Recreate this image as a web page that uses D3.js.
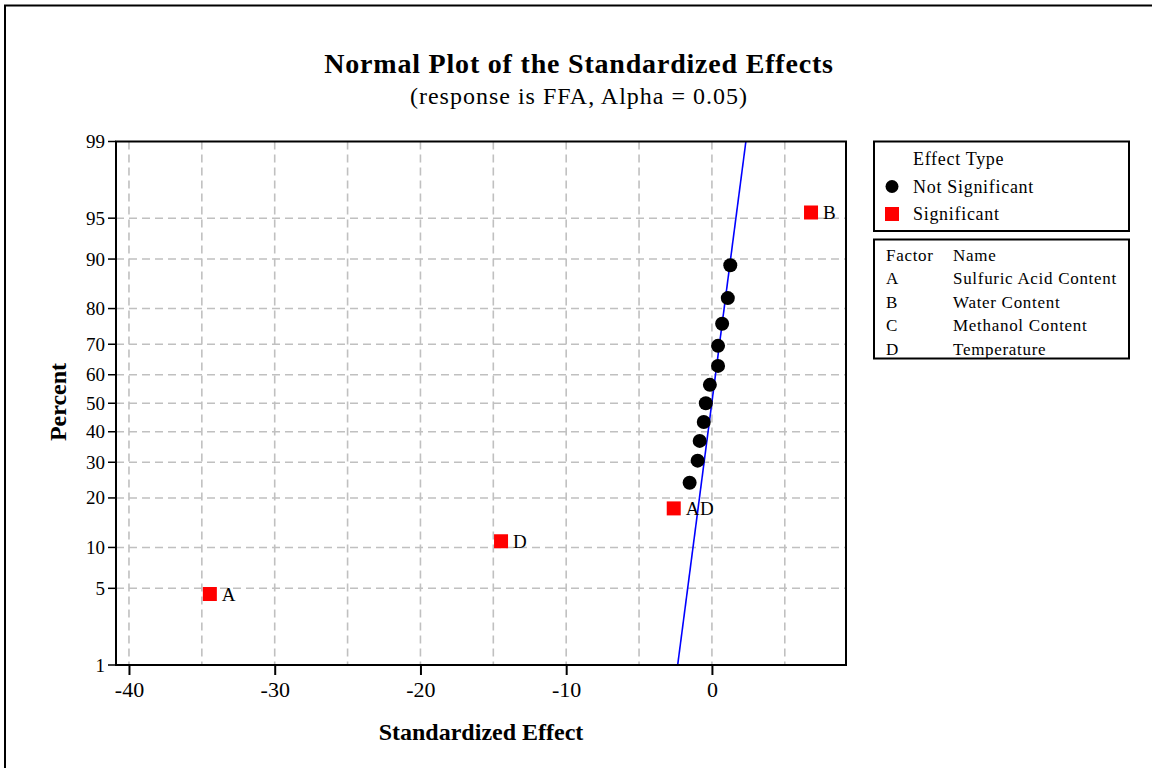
<!DOCTYPE html>
<html>
<head>
<meta charset="utf-8">
<script src="https://cdn.jsdelivr.net/npm/d3@7"></script>
<style>
  body { margin: 0; background: #fff; }
  text { font-family: "Liberation Serif", "Times New Roman", serif; fill: #000; }
</style>
</head>
<body>
<div id="chart"></div>
<script>
// effects sorted by size, with their normal-plot percent
var effectNames = ["A", "D", "AD", "", "", "", "", "", "", "", "", "", "", "", "B"];
var effectValues = [-34.45, -14.47, -2.62, -1.53, -0.98, -0.84, -0.56, -0.42, -0.14, 0.42, 0.42, 0.70, 1.09, 1.26, 6.80];
var effectPercents = [4.5, 11.0, 17.5, 24.0, 30.5, 36.9, 43.4, 50.0, 56.5, 63.0, 69.5, 76.0, 82.5, 89.0, 95.5];
var effectSignificant = [true, true, true, false, false, false, false, false, false, false, false, false, false, false, true];

// fitted line end points
var lineValues = [-2.35, 2.33];
var linePercents = [1, 99];

var yTickValues = [1, 5, 10, 20, 30, 40, 50, 60, 70, 80, 90, 95, 99];
var yGridValues = [5, 10, 20, 30, 40, 50, 60, 70, 80, 90, 95];
var xTickValues = [-40, -30, -20, -10, 0];
var xGridValues = [-40, -35, -30, -25, -20, -15, -10, -5, 0, 5];

var factorLetters = ["A", "B", "C", "D"];
var factorNames = ["Sulfuric Acid Content", "Water Content", "Methanol Content", "Temperature"];

var width = 1152, height = 768;
var plot = {left: 116, top: 141.5, right: 846, bottom: 665};

// inverse normal cdf (Acklam)
function probit(p) {
	var a = [-39.69683028665376, 220.9460984245205, -275.9285104469687, 138.3577518672690, -30.66479806614716, 2.506628277459239],
		b = [-54.47609879822406, 161.5858368580409, -155.6989798598866, 66.80131188771972, -13.28068155288572],
		c = [-0.007784894002430293, -0.3223964580411365, -2.400758277161838, -2.549732539343734, 4.374664141464968, 2.938163982698783],
		d = [0.007784695709041462, 0.3224671290700398, 2.445134137142996, 3.754408661907416];
	var pl = 0.02425, q, r;
	if (p < pl) {
		q = Math.sqrt(-2 * Math.log(p));
		return (((((c[0]*q+c[1])*q+c[2])*q+c[3])*q+c[4])*q+c[5]) / ((((d[0]*q+d[1])*q+d[2])*q+d[3])*q+1);
	}
	if (p > 1 - pl) {
		q = Math.sqrt(-2 * Math.log(1 - p));
		return -(((((c[0]*q+c[1])*q+c[2])*q+c[3])*q+c[4])*q+c[5]) / ((((d[0]*q+d[1])*q+d[2])*q+d[3])*q+1);
	}
	q = p - 0.5; r = q * q;
	return (((((a[0]*r+a[1])*r+a[2])*r+a[3])*r+a[4])*r+a[5])*q / (((((b[0]*r+b[1])*r+b[2])*r+b[3])*r+b[4])*r+1);
}

var svg = d3.select("#chart").append("svg")
	.attr("width", width)
	.attr("height", height);

var xScale = d3.scaleLinear().domain([-40.89, 9.2]).range([plot.left, plot.right]);
var zScale = d3.scaleLinear().domain([probit(0.01), probit(0.99)]).range([plot.bottom, plot.top]);
var yScale = function(pct) { return zScale(probit(pct / 100)); };

// outer frame (only left and top show)
svg.append("path")
	.attr("d", "M5,768 L5,5.5 L1152,5.5")
	.attr("fill", "none")
	.attr("stroke", "#000")
	.attr("stroke-width", 2);

// grid
var grid = svg.append("g")
	.attr("stroke", "#c0c0c0")
	.attr("stroke-width", 1.6)
	.attr("stroke-dasharray", "8,5");

grid.selectAll(".vgrid")
	.data(xGridValues)
	.enter().append("line")
		.attr("x1", function(d) { return xScale(d); })
		.attr("x2", function(d) { return xScale(d); })
		.attr("y1", plot.top)
		.attr("y2", plot.bottom);

grid.selectAll(".hgrid")
	.data(yGridValues)
	.enter().append("line")
		.attr("x1", plot.left)
		.attr("x2", plot.right)
		.attr("y1", function(d) { return yScale(d); })
		.attr("y2", function(d) { return yScale(d); });

// fitted line
svg.append("line")
	.attr("x1", xScale(lineValues[0]))
	.attr("y1", yScale(linePercents[0]))
	.attr("x2", xScale(lineValues[1]))
	.attr("y2", yScale(linePercents[1]))
	.attr("stroke", "#0000ff")
	.attr("stroke-width", 1.6);

// points
var pts = effectValues.map(function(v, i) {
	return {x: v, p: effectPercents[i], sig: effectSignificant[i], name: effectNames[i]};
});

svg.selectAll(".dot")
	.data(pts.filter(function(d) { return !d.sig; }))
	.enter().append("circle")
		.attr("cx", function(d) { return xScale(d.x); })
		.attr("cy", function(d) { return yScale(d.p); })
		.attr("r", 7)
		.attr("fill", "#000");

var sigPts = pts.filter(function(d) { return d.sig; });
svg.selectAll(".sq")
	.data(sigPts)
	.enter().append("rect")
		.attr("x", function(d) { return xScale(d.x) - 7; })
		.attr("y", function(d) { return yScale(d.p) - 7; })
		.attr("width", 14)
		.attr("height", 14)
		.attr("fill", "#ff0000");

svg.selectAll(".sqlabel")
	.data(sigPts)
	.enter().append("text")
		.attr("x", function(d) { return xScale(d.x) + 12; })
		.attr("y", function(d) { return yScale(d.p) + 7; })
		.style("font-size", "19px")
		.style("letter-spacing", "0.5px")
		.text(function(d) { return d.name; });

// plot frame
svg.append("rect")
	.attr("x", plot.left)
	.attr("y", plot.top)
	.attr("width", plot.right - plot.left)
	.attr("height", plot.bottom - plot.top)
	.attr("fill", "none")
	.attr("stroke", "#000")
	.attr("stroke-width", 2);

// axes
var yAxis = svg.append("g");
yAxis.selectAll("line")
	.data(yTickValues)
	.enter().append("line")
		.attr("x1", plot.left - 8)
		.attr("x2", plot.left)
		.attr("y1", function(d) { return yScale(d); })
		.attr("y2", function(d) { return yScale(d); })
		.attr("stroke", "#000")
		.attr("stroke-width", 1.5);
yAxis.selectAll("text")
	.data(yTickValues)
	.enter().append("text")
		.attr("x", plot.left - 11)
		.attr("y", function(d) { return yScale(d) + 6.5; })
		.attr("text-anchor", "end")
		.style("font-size", "19px")
		.text(function(d) { return d; });

var xAxis = svg.append("g")
	.attr("class", "axis axis--x")
	.attr("transform", "translate(0," + plot.bottom + ")")
	.call(d3.axisBottom(xScale).tickValues(xTickValues).tickSize(10).tickPadding(6)
		.tickFormat(function(d) { return String(d); }));
xAxis.select(".domain").remove();
xAxis.selectAll(".tick line").attr("stroke-width", 2);
xAxis.selectAll(".tick text")
	.style("font-family", "Liberation Serif")
	.style("font-size", "22px");

svg.append("text")
	.attr("x", 481)
	.attr("y", 740)
	.attr("text-anchor", "middle")
	.style("font-size", "24px")
	.style("font-weight", "bold")
	.text("Standardized Effect");

svg.append("text")
	.attr("transform", "translate(66,402) rotate(-90)")
	.attr("text-anchor", "middle")
	.style("font-size", "24px")
	.style("font-weight", "bold")
	.text("Percent");

// titles
svg.append("text")
	.attr("x", 579)
	.attr("y", 73)
	.attr("text-anchor", "middle")
	.style("font-size", "28px")
	.style("font-weight", "bold")
	.style("letter-spacing", "0.8px")
	.text("Normal Plot of the Standardized Effects");

svg.append("text")
	.attr("x", 579)
	.attr("y", 104)
	.attr("text-anchor", "middle")
	.style("font-size", "24px")
	.style("letter-spacing", "1px")
	.text("(response is FFA, Alpha = 0.05)");

// legend: effect type
var leg = svg.append("g").style("font-size", "18px").style("letter-spacing", "0.7px");
leg.append("rect")
	.attr("x", 874).attr("y", 141.5)
	.attr("width", 255).attr("height", 89.5)
	.attr("fill", "none").attr("stroke", "#000").attr("stroke-width", 2);
leg.append("text").attr("x", 913).attr("y", 164.5).text("Effect Type");
leg.append("circle").attr("cx", 892).attr("cy", 186.5).attr("r", 6.5).attr("fill", "#000");
leg.append("text").attr("x", 913).attr("y", 192.5).text("Not Significant");
leg.append("rect").attr("x", 885).attr("y", 207).attr("width", 14).attr("height", 14).attr("fill", "#ff0000");
leg.append("text").attr("x", 913).attr("y", 219.5).text("Significant");

// legend: factor names
var fac = svg.append("g").style("font-size", "17px").style("letter-spacing", "0.7px");
fac.append("rect")
	.attr("x", 874).attr("y", 239.5)
	.attr("width", 255).attr("height", 119)
	.attr("fill", "none").attr("stroke", "#000").attr("stroke-width", 2);
fac.append("text").attr("x", 886).attr("y", 260.5).text("Factor");
fac.append("text").attr("x", 953).attr("y", 260.5).text("Name");
fac.selectAll(".fl")
	.data(factorLetters)
	.enter().append("text")
		.attr("x", 886)
		.attr("y", function(d, i) { return 284 + i * 23.5; })
		.text(function(d) { return d; });
fac.selectAll(".fn")
	.data(factorNames)
	.enter().append("text")
		.attr("x", 953)
		.attr("y", function(d, i) { return 284 + i * 23.5; })
		.text(function(d) { return d; });
</script>
</body>
</html>
